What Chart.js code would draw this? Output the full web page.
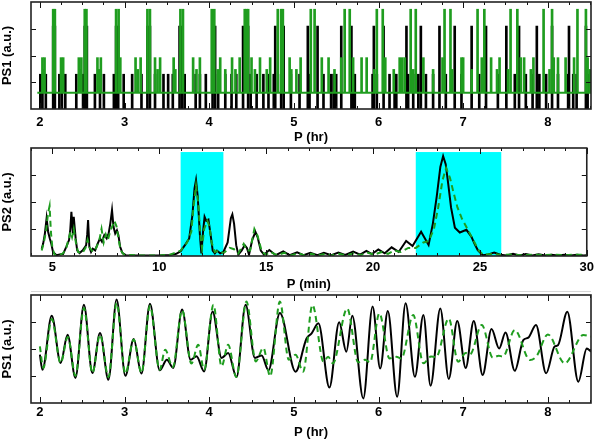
<!DOCTYPE html>
<html><head><meta charset="utf-8">
<script src="https://cdn.jsdelivr.net/npm/chart.js@4.4.1/dist/chart.umd.min.js"></script>
<style>
html,body{margin:0;padding:0;background:#fff;}
.p{position:absolute;left:0;width:598px;}
#sep{position:absolute;left:31px;top:291px;width:560px;height:1px;background:#d6d6d6;}
</style></head><body>
<div class="p" style="top:0;height:145px"><canvas id="c1" width="598" height="145" style="width:598px;height:145px"></canvas></div>
<div class="p" style="top:145px;height:147px"><canvas id="c2" width="598" height="147" style="width:598px;height:147px"></canvas></div>
<div id="sep"></div>
<div class="p" style="top:292px;height:148px"><canvas id="c3" width="598" height="148" style="width:598px;height:148px"></canvas></div>
<script>
// ---------------- DATA ----------------
const hrTicks = [2, 3, 4, 5, 6, 7, 8];
const minTicks = [5, 10, 15, 20, 25, 30];
const yTicks = [1, 2, 3];

// Panel 1 : PS1 line spectrum (black bars from 0, green bars from green baseline)
const ps1BlackX = [2.005,2.03,2.07,2.157,2.177,2.23,2.26,2.30,2.43,2.51,2.53,2.555,2.65,2.71,2.756,2.874,2.90,2.925,2.99,3.09,3.20,3.27,3.30,3.36,3.46,3.515,3.57,3.65,3.68,3.71,3.84,3.89,3.96,4.04,4.07,4.106,4.19,4.264,4.32,4.40,4.46,4.49,4.56,4.64,4.70,4.763,4.78,4.85,4.88,4.965,5.067,5.165,5.185,5.28,5.35,5.44,5.47,5.50,5.56,5.68,5.70,5.72,5.93,5.945,5.98,6.06,6.13,6.19,6.21,6.33,6.35,6.41,6.47,6.50,6.56,6.645,6.72,6.795,6.90,6.98,7.10,7.19,7.27,7.41,7.51,7.61,7.66,7.74,7.82,7.87,7.90,7.98,8.05,8.12,8.24,8.25,8.30,8.34,8.45,8.47];
const ps1BlackH = [1.3,1.3,1.3,3.1,3.1,1.3,1.3,1.3,1.3,1.3,3.1,3.1,1.3,1.3,1.3,1.3,3.1,3.1,1.3,1.3,1.3,3.1,3.1,1.3,1.3,1.3,1.3,3.1,3.1,1.3,1.3,1.3,1.3,3.1,3.1,1.3,1.3,1.3,1.3,3.1,3.1,1.3,1.3,1.3,1.3,1.3,3.1,1.3,3.1,1.3,1.3,3.1,1.3,3.1,1.3,1.3,1.3,1.3,3.1,3.1,1.3,1.3,1.3,3.1,1.3,3.1,1.3,1.3,1.3,3.1,1.3,1.3,1.3,3.1,1.3,1.3,3.1,1.3,3.1,1.3,3.1,1.3,3.1,1.3,3.1,1.3,3.1,1.3,1.3,3.1,1.3,1.3,3.1,1.3,1.3,3.1,1.3,1.3,3.1,1.3];
const ps1GreenBase = 0.61;
const ps1GreenSpan = [1.97, 8.51];
const ps1GreenX = [2.03,2.045,2.055,2.157,2.177,2.25,2.262,2.275,2.46,2.47,2.49,2.53,2.55,2.68,2.695,2.72,2.90,2.93,2.95,3.13,3.155,3.19,3.27,3.30,3.36,3.39,3.42,3.58,3.60,3.66,3.69,3.81,3.85,3.89,4.03,4.06,4.10,4.13,4.19,4.27,4.31,4.36,4.42,4.44,4.46,4.50,4.54,4.60,4.68,4.72,4.81,4.85,4.87,4.95,4.97,5.03,5.08,5.20,5.245,5.33,5.41,5.48,5.56,5.60,5.66,5.70,5.80,5.86,5.95,5.98,6.05,6.08,6.18,6.25,6.28,6.31,6.38,6.41,6.44,6.53,6.645,6.756,6.78,6.85,6.87,6.98,7.00,7.10,7.17,7.22,7.25,7.33,7.40,7.43,7.53,7.56,7.64,7.68,7.72,7.80,7.83,7.95,8.02,8.05,8.07,8.12,8.21,8.31,8.35,8.45,8.47,8.50];
const ps1GreenH = [1.92,1.48,1.92,3.73,3.73,1.92,1.48,1.92,1.92,1.48,1.92,3.73,3.73,1.92,1.48,1.92,3.73,3.73,1.92,1.92,1.48,1.92,3.73,3.73,1.92,1.48,1.92,1.92,1.48,3.73,3.73,1.92,1.48,1.92,3.73,3.73,1.48,1.92,1.48,1.92,1.48,1.92,3.73,3.73,3.73,1.92,1.48,1.92,1.48,1.92,3.73,3.73,3.73,1.92,1.48,1.48,1.92,3.73,3.73,1.92,1.92,1.48,1.92,3.73,3.73,1.92,1.92,1.92,1.48,3.73,3.73,1.92,1.48,1.92,1.92,1.92,3.73,1.48,3.73,1.92,1.48,1.92,3.73,3.73,1.48,1.92,1.92,1.48,3.73,1.92,3.73,1.92,1.48,1.92,1.48,3.73,3.73,1.92,1.92,1.48,1.92,3.73,1.48,3.73,1.92,1.92,1.92,1.92,3.73,3.73,1.92,1.48];

// Panel 2 : PS2 vs period (min)
const ps2BlackX = [4.50,4.57,4.65,4.73,4.80,4.88,4.95,5.03,5.19,5.35,5.50,5.65,5.78,5.84,5.89,5.96,6.00,6.05,6.09,6.16,6.27,6.42,6.58,6.63,6.67,6.73,6.81,6.89,7.00,7.12,7.23,7.32,7.43,7.54,7.63,7.71,7.79,7.86,7.94,8.02,8.09,8.17,8.28,8.43,9.0,10.0,10.5,10.8,11.0,11.2,11.4,11.55,11.65,11.72,11.8,11.9,11.97,12.05,12.12,12.2,12.3,12.4,12.5,12.6,12.7,12.85,13.0,13.2,13.35,13.42,13.5,13.6,13.7,13.85,14.0,14.1,14.2,14.35,14.5,14.6,14.75,14.9,15.15,15.45,15.8,16.1,16.45,16.75,17.07,17.4,17.7,18.05,18.38,18.7,19.07,19.4,19.69,19.95,20.25,20.55,20.87,21.2,21.55,21.85,22.25,22.6,22.8,22.98,23.15,23.28,23.4,23.52,23.65,23.83,24.06,24.37,24.6,24.75,24.9,25.13,25.4,25.67,25.95,26.25,26.55,26.85,27.15,27.45,27.75,28.05,28.35,28.65,28.95,29.25,29.55,29.85,30.0];
const ps2BlackY = [0.27,0.46,0.83,1.40,0.90,0.65,0.45,0.15,0.03,0.06,0.07,0.34,0.59,1.0,1.64,0.83,1.45,1.0,0.65,0.21,0.11,0.21,0.40,0.8,1.33,0.34,0.15,0.27,0.21,0.46,0.65,0.53,0.77,0.65,0.83,1.2,1.7,1.08,0.83,0.95,0.77,0.34,0.11,0.03,0.02,0.02,0.04,0.08,0.18,0.4,0.65,1.5,2.5,2.81,2.2,0.8,0.1,0.9,1.45,1.3,1.35,0.8,0.2,0.1,0.2,0.1,0.15,0.5,1.4,1.54,1.2,0.4,0.05,0.2,0.4,0.3,0.05,0.6,0.89,0.7,0.2,0.05,0.22,0.03,0.17,0.03,0.14,0.03,0.12,0.03,0.12,0.03,0.13,0.04,0.16,0.05,0.19,0.07,0.24,0.1,0.32,0.15,0.56,0.37,0.9,0.41,1.2,2.2,3.3,3.7,3.4,2.66,1.8,1.05,0.87,0.97,0.72,0.45,0.22,0.03,0.06,0.13,0.05,0.02,0.08,0.02,0.07,0.02,0.06,0.02,0.05,0.02,0.05,0.02,0.05,0.02,0.03];
const ps2GreenX = [4.50,4.60,4.70,4.80,4.87,4.93,5.00,5.10,5.30,5.50,5.65,5.75,5.85,5.92,6.00,6.10,6.20,6.40,6.55,6.65,6.75,6.90,7.05,7.20,7.30,7.40,7.50,7.60,7.70,7.80,7.90,8.00,8.10,8.20,8.35,9.0,10.0,10.5,11.0,11.3,11.5,11.6,11.72,11.82,11.92,12.0,12.1,12.25,12.35,12.45,12.6,12.8,13.0,13.3,13.5,13.7,13.95,14.1,14.25,14.45,14.6,14.8,15.0,15.2,15.5,15.85,16.15,16.5,16.8,17.1,17.4,17.75,18.05,18.4,18.75,19.1,19.4,19.75,20.05,20.4,20.7,21.0,21.3,21.65,22.0,22.35,22.6,22.85,23.05,23.25,23.42,23.6,23.75,23.95,24.15,24.35,24.55,24.75,24.95,25.15,25.6,26.0,26.5,27.0,27.5,28.0,28.5,29.0,29.5,30.0];
const ps2GreenY = [0.2,0.5,0.9,1.6,1.85,0.9,0.3,0.05,0.02,0.1,0.3,0.6,0.9,0.7,1.0,0.5,0.15,0.1,0.3,0.6,0.3,0.15,0.3,0.6,1.0,0.5,0.8,0.6,0.9,1.1,1.3,1.1,0.6,0.2,0.05,0.02,0.02,0.05,0.2,0.5,0.9,1.8,2.6,2.0,0.8,0.3,1.0,1.3,1.1,0.5,0.15,0.2,0.1,0.3,0.25,0.1,0.45,0.2,0.2,1.0,0.75,0.15,0.05,0.15,0.03,0.12,0.02,0.1,0.02,0.08,0.02,0.08,0.02,0.08,0.02,0.1,0.03,0.12,0.05,0.15,0.08,0.2,0.15,0.3,0.3,0.5,0.55,1.0,1.8,2.8,3.26,2.9,2.4,1.8,1.4,1.1,0.8,0.5,0.2,0.05,0.08,0.04,0.06,0.03,0.05,0.03,0.05,0.03,0.05,0.04];
const ps2Bands = [[11, 13], [22, 26]];
const ps2BandTop = 3.85;

// Panel 3 : PS1 smooth vs period (hr)
const ps3BlackX = [2.0,2.03,2.14,2.245,2.327,2.42,2.52,2.62,2.71,2.81,2.906,3.01,3.108,3.2,3.3,3.415,3.5,3.575,3.68,3.78,3.85,3.94,4.04,4.146,4.224,4.323,4.43,4.54,4.62,4.70,4.835,5.02,5.15,5.21,5.29,5.42,5.535,5.62,5.69,5.82,5.93,6.02,6.11,6.22,6.32,6.43,6.53,6.615,6.73,6.83,6.93,7.03,7.125,7.23,7.335,7.425,7.50,7.61,7.71,7.77,7.86,7.98,8.08,8.12,8.23,8.36,8.46,8.51];
const ps3BlackY = [1.79,1.23,3.23,1.48,2.53,0.93,3.64,1.11,2.59,0.86,3.83,1.01,2.37,1.09,3.68,1.21,1.6,1.3,3.46,1.6,1.73,1.17,3.39,1.67,1.85,0.96,3.64,1.67,1.76,1.21,3.33,1.16,2.39,2.58,2.95,0.57,2.99,1.9,3.23,0.17,3.57,1.28,3.41,0.23,3.69,0.97,3.26,0.64,3.5,0.89,3.04,1.3,3.04,1.04,2.74,2.02,2.61,1.19,2.33,2.42,2.89,1.1,2.09,2.14,3.38,0.79,2.02,1.9];
const ps3GreenX = [2.0,2.04,2.14,2.245,2.33,2.42,2.52,2.62,2.71,2.81,2.906,3.01,3.108,3.2,3.3,3.415,3.48,3.57,3.68,3.79,3.87,3.94,4.05,4.146,4.224,4.32,4.44,4.55,4.64,4.72,4.835,4.94,5.02,5.11,5.22,5.35,5.405,5.46,5.63,5.76,5.84,5.90,6.01,6.13,6.21,6.27,6.41,6.53,6.62,6.68,6.83,6.94,7.03,7.08,7.22,7.35,7.42,7.47,7.61,7.79,7.87,8.0,8.2,8.42,8.51];
const ps3GreenY = [2.1,1.3,3.11,1.48,2.44,1.01,3.52,1.11,2.53,0.96,3.7,1.09,2.35,1.11,3.6,1.23,1.97,1.33,3.44,1.46,2.16,1.23,3.64,1.36,2.16,0.96,3.76,1.54,2.04,0.99,3.76,1.6,1.79,1.16,3.63,1.53,1.71,1.47,3.5,1.51,1.6,1.51,3.32,1.65,1.71,1.65,3.26,1.47,1.72,1.7,3.13,1.53,1.85,1.8,2.89,1.68,1.75,1.72,2.7,1.59,1.75,2.54,1.47,2.52,2.46];

// ---------------- RENDERING ----------------
Chart.defaults.font.family = "'Liberation Sans', Arial, sans-serif";
Chart.defaults.color = '#000';
Chart.defaults.animation = false;

const GREEN = '#1f9d1f';
const toXY = (xs, ys) => xs.map((x, i) => ({x: x, y: ys[i]}));
const toBars = (xs, hs, base) => xs.map((x, i) => ({x: x, y: [base, hs[i]]}));
const minorOf = (lo, hi, step, majors) => {
  const out = [];
  for (let v = Math.ceil(lo / step) * step; v <= hi + 1e-9; v += step) {
    const r = Math.round(v * 1000) / 1000;
    if (!majors.includes(r)) out.push(r);
  }
  return out;
};

function framePlugin(xMajor, xMinor, yMajor) {
  return {
    id: 'frame',
    afterDatasetsDraw(chart) {
      const {ctx, chartArea: a, scales} = chart;
      const x = scales.x, y = scales.y;
      ctx.save();
      ctx.strokeStyle = '#111';
      ctx.lineWidth = 1;
      ctx.beginPath();
      const tick = (v, len) => {
        const px = Math.round(x.getPixelForValue(v)) + 0.5;
        ctx.moveTo(px, a.bottom); ctx.lineTo(px, a.bottom - len);
        ctx.moveTo(px, a.top); ctx.lineTo(px, a.top + len);
      };
      xMajor.forEach(v => tick(v, 6));
      xMinor.forEach(v => tick(v, 3));
      yMajor.forEach(v => {
        const py = Math.round(y.getPixelForValue(v)) + 0.5;
        ctx.moveTo(a.left, py); ctx.lineTo(a.left + 5, py);
        ctx.moveTo(a.right, py); ctx.lineTo(a.right - 5, py);
      });
      ctx.stroke();
      ctx.lineWidth = 1.6;
      ctx.strokeStyle = '#222';
      ctx.strokeRect(a.left, a.top, a.right - a.left, a.bottom - a.top);
      ctx.restore();
    }
  };
}

const bandPlugin = {
  id: 'bands',
  beforeDatasetsDraw(chart) {
    const {ctx, scales: {x, y}} = chart;
    ctx.save();
    ctx.fillStyle = '#00ffff';
    ps2Bands.forEach(([a, b]) => {
      const l = x.getPixelForValue(a), r = x.getPixelForValue(b);
      const t = y.getPixelForValue(ps2BandTop), btm = y.getPixelForValue(0);
      ctx.fillRect(l, t, r - l, btm - t);
    });
    ctx.restore();
  }
};

function scalesFor(xmin, xmax, ticks, xTitle, yTitle, axisH, labelPad) {
  return {
    x: {
      type: 'linear', min: xmin, max: xmax, offset: false,
      grid: {display: false, drawTicks: false}, border: {display: false},
      ticks: {font: {size: 13, weight: 'bold'}, padding: labelPad, maxRotation: 0, autoSkip: false, color: '#000'},
      afterBuildTicks: s => { s.ticks = ticks.map(v => ({value: v})); },
      afterFit: s => { s.height = axisH; },
      title: {display: true, text: xTitle, font: {size: 13, weight: 'bold'}, padding: 0, color: '#000'}
    },
    y: {
      type: 'linear', min: 0, max: 4,
      grid: {display: false, drawTicks: false}, border: {display: false},
      ticks: {display: false},
      afterFit: s => { s.width = 31; },
      title: {display: true, text: yTitle, font: {size: 13, weight: 'bold'}, padding: 0, color: '#000'}
    }
  };
}

const baseOpts = (scales, top) => ({
  responsive: false, animation: false,
  layout: {padding: {top: top, right: 7, left: 0, bottom: 0}},
  plugins: {legend: {display: false}, tooltip: {enabled: false}},
  scales: scales
});

// Panel 1
new Chart(document.getElementById('c1'), {
  type: 'bar',
  data: {
    datasets: [
      {type: 'bar', data: toBars(ps1BlackX, ps1BlackH, 0), backgroundColor: '#000', barThickness: 2, grouped: false, order: 3},
      {type: 'bar', data: toBars(ps1GreenX, ps1GreenH, ps1GreenBase), backgroundColor: GREEN, barThickness: 2, grouped: false, order: 2},
      {type: 'line', data: ps1GreenSpan.map(x => ({x: x, y: ps1GreenBase})), borderColor: GREEN, borderWidth: 2, pointRadius: 0, order: 1}
    ]
  },
  options: baseOpts(scalesFor(1.895, 8.51, hrTicks, 'P (hr)', 'PS1 (a.u.)', 36, 6), 2),
  plugins: [framePlugin(hrTicks, minorOf(1.895, 8.51, 0.25, hrTicks), yTicks)]
});

// Panel 2
new Chart(document.getElementById('c2'), {
  type: 'scatter',
  data: {
    datasets: [
      {data: toXY(ps2BlackX, ps2BlackY), showLine: true, borderColor: '#000', borderWidth: 2, pointRadius: 0, tension: 0, order: 2},
      {data: toXY(ps2GreenX, ps2GreenY), showLine: true, borderColor: GREEN, borderWidth: 2, borderDash: [6, 4], pointRadius: 0, tension: 0, order: 1}
    ]
  },
  options: baseOpts(scalesFor(4, 30, minTicks, 'P (min)', 'PS2 (a.u.)', 36, 4), 3),
  plugins: [bandPlugin, framePlugin(minTicks, minorOf(4, 30, 1, minTicks), yTicks)]
});

// Panel 3
new Chart(document.getElementById('c3'), {
  type: 'scatter',
  data: {
    datasets: [
      {data: toXY(ps3BlackX, ps3BlackY), showLine: true, borderColor: '#000', borderWidth: 2, pointRadius: 0, cubicInterpolationMode: 'monotone', order: 2},
      {data: toXY(ps3GreenX, ps3GreenY), showLine: true, borderColor: GREEN, borderWidth: 2, borderDash: [6, 4], pointRadius: 0, cubicInterpolationMode: 'monotone', order: 1}
    ]
  },
  options: baseOpts(scalesFor(1.895, 8.51, hrTicks, 'P (hr)', 'PS1 (a.u.)', 37, 2), 3),
  plugins: [framePlugin(hrTicks, minorOf(1.895, 8.51, 0.25, hrTicks), yTicks)]
});
</script>
</body></html>
